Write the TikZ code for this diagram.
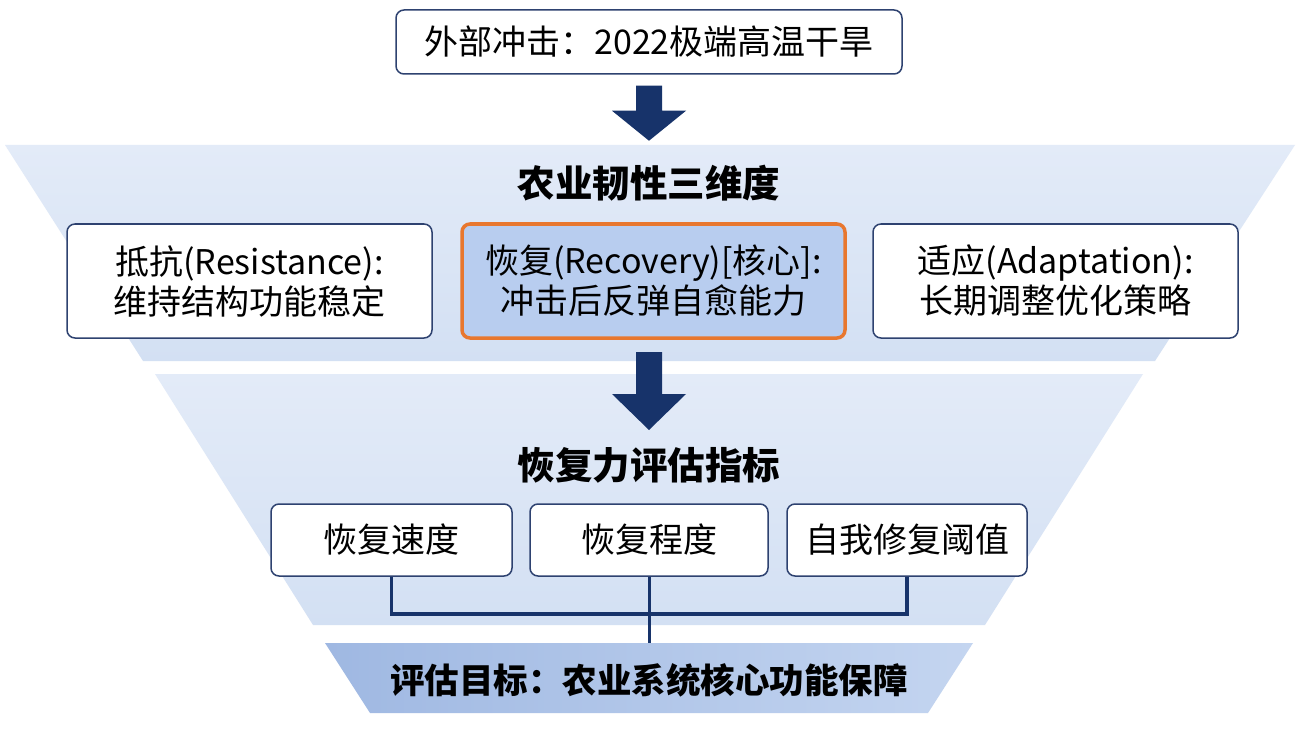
\documentclass[tikz,border=0pt]{standalone}
\usepackage{fontspec}
\setmainfont{Noto Sans CJK SC}
\usetikzlibrary{calc}
\definecolor{navy}{HTML}{17336A}
\definecolor{boxline}{HTML}{2E4270}
\definecolor{orangeb}{HTML}{E8772E}
\definecolor{bandA}{HTML}{E3EBF8}
\definecolor{bandB}{HTML}{D3E0F3}
\definecolor{goalA}{HTML}{9FB8E2}
\definecolor{goalB}{HTML}{C4D5F0}
\definecolor{coreA}{HTML}{B8CDEF}
\tikzset{
  wbox/.style={draw=boxline, line width=1.5pt, fill=white, rounded corners=8pt, align=center, font=\fontsize{34}{40}\selectfont, inner sep=0pt},
  corebox/.style={wbox, draw=orangeb, line width=3.5pt, fill=coreA},
  ttl/.style={font=\fontsize{37.5}{42}\selectfont\bfseries},
  conn/.style={draw=navy, line width=3.5pt},
  blockarrow/.style={fill=navy}
}
\begin{document}
\begin{tikzpicture}[x=1pt,y=-1pt]
\useasboundingbox (0,0) rectangle (1298,730);
\fill[white] (0,0) rectangle (1298,730);
% bands
\shade[top color=bandA, bottom color=bandB] (5,145) -- (1295,145) -- (1155,361) -- (143,361) -- cycle;
\shade[top color=bandA, bottom color=bandB] (155,374) -- (1143,374) -- (985,625) -- (313,625) -- cycle;
\shade[left color=goalA, right color=goalB] (325,643) -- (973,643) -- (928,713) -- (370,713) -- cycle;
% top box
\node[wbox, minimum width=506, minimum height=64] (shock) at (649,42) {外部冲击：2022极端高温干旱};
% arrow 1
\fill[blockarrow] ($(shock.south)+(-13,11)$) -- ++(26,0) -- ++(0,25) -- ++(24,0) -- ($(shock.south)+(0,66)$) -- ++(-37,-30) -- ++(24,0) -- cycle;
% title 1
\node[ttl] (t1) at (649,183) {农业韧性三维度};
% three boxes
\node[wbox, minimum width=365, minimum height=114] (res) at (249.5,281) {抵抗(Resistance):\\维持结构功能稳定};
\node[corebox, minimum width=383, minimum height=114] (rec) at (653.5,281) {恢复(Recovery)[核心]:\\冲击后反弹自愈能力};
\node[wbox, minimum width=365, minimum height=114] (ada) at (1055.5,281) {适应(Adaptation):\\长期调整优化策略};
% arrow 2
\fill[blockarrow] (636,352) -- (662,352) -- (662,394) -- (686,394) -- (649,430) -- (612,394) -- (636,394) -- cycle;
% title 2
\node[ttl] (t2) at (649,465) {恢复力评估指标};
% indicator boxes
\node[wbox, minimum width=241, minimum height=72] (speed) at (391.5,540) {恢复速度};
\node[wbox, minimum width=238, minimum height=72] (degree) at (649,540) {恢复程度};
\node[wbox, minimum width=240, minimum height=72] (thresh) at (907,540) {自我修复阈值};
% goal
\coordinate (goaltop) at (649,643);
\node[font=\fontsize{34.5}{40}\selectfont\bfseries] (goal) at (649,680) {评估目标：农业系统核心功能保障};
% connectors
\draw[conn] (speed.south) -- ++(0,37) -| (thresh.south);
\draw[conn, line width=3pt] (degree.south) -- (goaltop);
\end{tikzpicture}
\end{document}
